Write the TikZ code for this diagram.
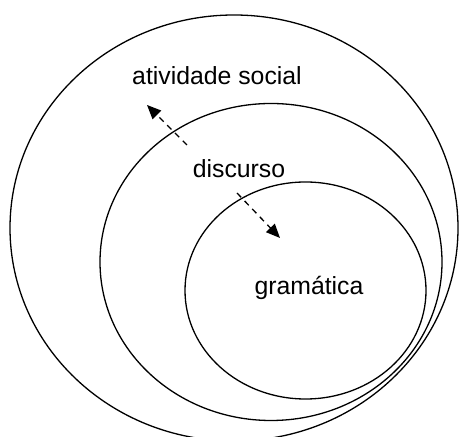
\documentclass[tikz,border=0pt]{standalone}
\usepackage{fontspec}
\setmainfont{Liberation Sans}
\usepackage{tikz}
\usetikzlibrary{arrows.meta, positioning}

\tikzset{
  ring/.style={line width=0.65pt},
  label/.style={anchor=base, inner sep=0pt, font=\fontsize{12.4}{15}\selectfont},
  dasharrow/.style={line width=0.65pt, dash pattern=on 3pt off 2.5pt, -{Triangle[length=7pt, width=6pt]}}
}

\begin{document}
\begin{tikzpicture}[x=0.5pt, y=0.5pt]
  \clip (0,0) rectangle (459,437);
  % Nested contexts
  \draw[ring] (234,209) ellipse (224 and 213);
  \draw[ring] (271,175) ellipse (171 and 158.5);
  \draw[ring] (305.5,146.5) ellipse (120.5 and 108.5);
  % Labels
  \node[label] (social) at (217,352) {atividade social};
  \node[label] (discurso) at (239,259) {discurso};
  \node[label] (gramatica) at (309,142) {gramática};
  % Arrows
  \coordinate (upfrom) at (187,292);
  \coordinate (upto) at (147,332);
  \coordinate (downfrom) at (237,244);
  \coordinate (downto) at (280,199);
  \draw[dasharrow] (upfrom) -- (upto);
  \draw[dasharrow] (downfrom) -- (downto);
\end{tikzpicture}
\end{document}
